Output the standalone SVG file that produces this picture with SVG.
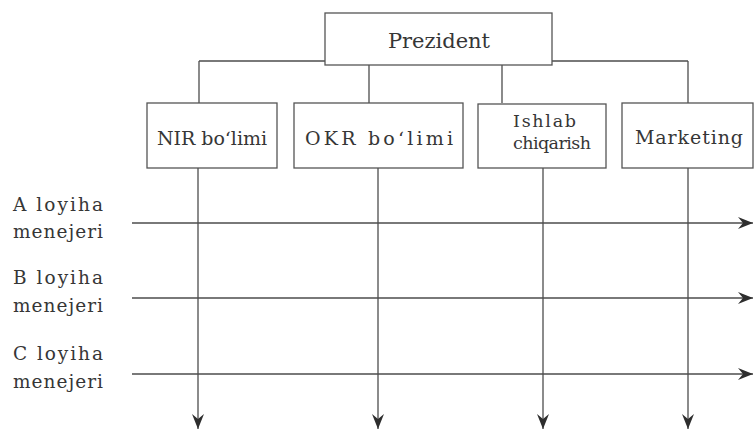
<svg xmlns="http://www.w3.org/2000/svg" width="755" height="432" viewBox="0 0 755 432">
<style>
.ln{stroke:#4d4d4d;stroke-width:1.3;fill:none}
.box{fill:#fff;stroke:#555;stroke-width:1.3}
.t{font-size:19px}
.s{font-size:17.5px}
.lab{font-size:18.5px}
</style>
<defs>
<marker id="ah" markerUnits="userSpaceOnUse" markerWidth="16" markerHeight="14" viewBox="0 0 16 14" refX="15" refY="7" orient="auto">
<path d="M0,1 L15,7 L0,13 L5,7 z" fill="#2e2e2e"/>
</marker>
</defs>
<rect width="755" height="432" fill="#fff"/>
<g id="connectors">
<path class="ln" d="M199,61 H688"/>
<path class="ln" d="M199,61 V103 M369,61 V103 M502,61 V103 M688,61 V103"/>
<path class="ln" d="M198,168 V429" marker-end="url(#ah)"/>
<path class="ln" d="M378,168 V429" marker-end="url(#ah)"/>
<path class="ln" d="M543,168 V429" marker-end="url(#ah)"/>
<path class="ln" d="M688,168 V429" marker-end="url(#ah)"/>
<path class="ln" d="M132,223 H753" marker-end="url(#ah)"/>
<path class="ln" d="M132,298 H753" marker-end="url(#ah)"/>
<path class="ln" d="M132,374 H753" marker-end="url(#ah)"/>
</g>
<g font-family="'DejaVu Serif', 'Liberation Serif', serif" fill="#363636">
<g id="president">
<rect class="box" x="325" y="13" width="227" height="52"/>
<text x="388" y="48" font-size="21" textLength="102" lengthAdjust="spacing">Prezident</text>
</g>
<g id="nir">
<rect class="box" x="147" y="103" width="130" height="65"/>
<text class="t" x="157" y="145" textLength="110" lengthAdjust="spacing">NIR bo‘limi</text>
</g>
<g id="okr">
<rect class="box" x="294" y="103" width="169" height="65"/>
<text class="t" x="305" y="145" textLength="148" lengthAdjust="spacing">OKR bo‘limi</text>
</g>
<g id="ishlab">
<rect class="box" x="478" y="104" width="128" height="64"/>
<text class="s" x="513" y="127" textLength="63" lengthAdjust="spacing">Ishlab</text>
<text class="s" x="513" y="149" textLength="78" lengthAdjust="spacing">chiqarish</text>
</g>
<g id="marketing">
<rect class="box" x="622" y="103" width="131" height="65"/>
<text class="t" x="635" y="144" textLength="108" lengthAdjust="spacing">Marketing</text>
</g>
<g id="managers">
<text class="lab" x="13" y="211" textLength="90" lengthAdjust="spacing">A loyiha</text>
<text class="lab" x="13" y="238" textLength="90" lengthAdjust="spacing">menejeri</text>
<text class="lab" x="13" y="284" textLength="90" lengthAdjust="spacing">B loyiha</text>
<text class="lab" x="13" y="312" textLength="90" lengthAdjust="spacing">menejeri</text>
<text class="lab" x="13" y="360" textLength="90" lengthAdjust="spacing">C loyiha</text>
<text class="lab" x="13" y="388" textLength="90" lengthAdjust="spacing">menejeri</text>
</g>
</g>
</svg>
